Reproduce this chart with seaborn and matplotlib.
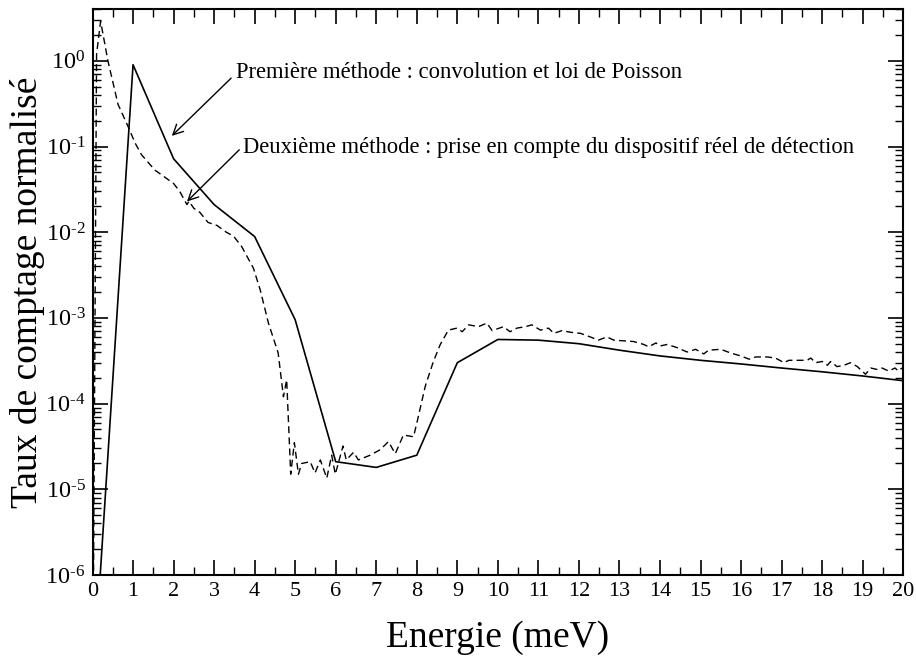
import numpy as np
import pandas as pd
import seaborn as sns
import matplotlib
matplotlib.use("Agg")
import matplotlib.pyplot as plt
from matplotlib.ticker import LogLocator, FuncFormatter, MultipleLocator, NullFormatter

# --- Data -----------------------------------------------------------------
# Première méthode : convolution et loi de Poisson (solid line)
energy_m1 = [0, 1, 2, 3, 4, 5, 6, 7, 8, 9, 10, 11, 12, 13, 14, 15, 16, 17, 18, 19, 20]
rate_m1 = [4e-8, 0.9, 0.072, 0.021, 0.0089, 9.5e-4, 2.1e-5, 1.8e-5, 2.5e-5, 3.0e-4,
           5.6e-4, 5.5e-4, 5.0e-4, 4.2e-4, 3.6e-4, 3.2e-4, 2.9e-4, 2.6e-4, 2.35e-4,
           2.1e-4, 1.85e-4]

# Deuxième méthode : prise en compte du dispositif réel de détection (dashed line)
energy_m2 = [0.0, 0.1, 0.2, 0.38, 0.63, 0.88, 1.05, 1.21, 1.54, 1.75, 2.0, 2.15, 2.33, 2.38,
             2.5, 2.65, 2.85, 3.07, 3.3, 3.48, 3.68, 3.97, 4.14, 4.34, 4.58, 4.71, 4.79,
             4.89, 4.98, 5.08, 5.16, 5.37, 5.49, 5.62, 5.78, 5.9, 5.99, 6.18, 6.26, 6.44,
             6.56, 6.85, 7.1, 7.3, 7.47, 7.67, 7.92, 8.0, 8.21, 8.41, 8.58, 8.78, 8.99,
             9.12, 9.28, 9.52, 9.73, 9.86, 10.14, 10.3, 10.47, 10.68, 10.84, 11.05, 11.25,
             11.38, 11.58, 11.79, 12.04, 12.28, 12.48, 12.69, 12.86, 13.1, 13.35, 13.6,
             13.72, 13.9, 14.0, 14.18, 14.42, 14.67, 14.88, 15.08, 15.2, 15.5, 15.74,
             15.99, 16.2, 16.36, 16.65, 16.85, 17.06, 17.18, 17.47, 17.63, 17.72, 17.84,
             18.0, 18.13, 18.21, 18.37, 18.54, 18.7, 18.87, 19.07, 19.2, 19.36, 19.48,
             19.64, 19.8, 19.88, 19.97]
rate_m2 = [1e-8, 1.2, 2.9, 1.0, 0.31, 0.17, 0.11, 0.08, 0.053, 0.045, 0.037, 0.030, 0.021,
           0.023, 0.019, 0.017, 0.013, 0.012, 0.010, 0.009, 0.0068, 0.0038, 0.0021, 8.7e-4,
           3.9e-4, 1.2e-4, 1.9e-4, 1.5e-5, 3.5e-5, 1.5e-5, 2.0e-5, 2.1e-5, 1.55e-5, 2.2e-5,
           1.35e-5, 2.5e-5, 1.5e-5, 3.2e-5, 2.2e-5, 2.7e-5, 2.2e-5, 2.5e-5, 2.9e-5, 3.6e-5,
           2.6e-5, 4.3e-5, 4.1e-5, 5.9e-5, 1.6e-4, 3.1e-4, 4.9e-4, 7.2e-4, 7.6e-4, 6.9e-4,
           8.3e-4, 7.9e-4, 8.7e-4, 7.1e-4, 7.9e-4, 6.9e-4, 7.6e-4, 7.9e-4, 8.3e-4, 7.2e-4,
           7.6e-4, 6.6e-4, 7.1e-4, 6.8e-4, 6.6e-4, 6.0e-4, 5.5e-4, 6.0e-4, 5.5e-4, 5.4e-4,
           5.3e-4, 4.9e-4, 4.6e-4, 5.1e-4, 4.7e-4, 4.9e-4, 4.5e-4, 4.0e-4, 4.3e-4, 3.8e-4,
           4.2e-4, 4.3e-4, 3.9e-4, 3.6e-4, 3.3e-4, 3.5e-4, 3.5e-4, 3.4e-4, 3.0e-4, 3.2e-4,
           3.2e-4, 3.2e-4, 3.4e-4, 3.0e-4, 3.1e-4, 2.8e-4, 3.1e-4, 2.7e-4, 2.8e-4, 3.0e-4,
           2.7e-4, 2.2e-4, 2.6e-4, 2.5e-4, 2.6e-4, 2.4e-4, 2.6e-4, 2.4e-4, 2.6e-4]

x_label = "Energie (meV)"
y_label = "Taux de comptage normalisé"
label_m1 = "Première méthode : convolution et loi de Poisson"
label_m2 = "Deuxième méthode : prise en compte du dispositif réel de détection"

# --- Style ----------------------------------------------------------------
sns.set_theme(style="ticks")
plt.rcParams["font.family"] = ["Liberation Serif", "DejaVu Serif"]
plt.rcParams["mathtext.fontset"] = "custom"
plt.rcParams["mathtext.rm"] = "Liberation Serif"
plt.rcParams["mathtext.it"] = "Liberation Serif:italic"
plt.rcParams["mathtext.bf"] = "Liberation Serif:bold"

fig = plt.figure(figsize=(9.16, 6.59), dpi=100)
ax = fig.add_axes([0.101, 0.1275, 0.885, 0.8585])

df1 = pd.DataFrame({"E": energy_m1, "R": rate_m1})
df2 = pd.DataFrame({"E": energy_m2, "R": rate_m2})

sns.lineplot(data=df1, x="E", y="R", ax=ax, color="black", lw=1.2,
             estimator=None, sort=False)
sns.lineplot(data=df2, x="E", y="R", ax=ax, color="black", lw=1.0,
             estimator=None, sort=False, linestyle=(0, (5, 3)))

ax.set_yscale("log")
ax.set_xlim(0, 20)
ax.set_ylim(1e-6, 4.0)

HYPHEN = "\u2010"


def pow10_label(v, pos):
    e = int(round(np.log10(v)))
    if e < 0:
        return "$10^{" + HYPHEN + str(-e) + "}$"
    return "$10^{" + str(e) + "}$"


ax.xaxis.set_major_locator(MultipleLocator(1))
ax.xaxis.set_minor_locator(MultipleLocator(0.5))
ax.yaxis.set_major_locator(LogLocator(base=10, numticks=20))
ax.yaxis.set_minor_locator(LogLocator(base=10, subs=np.arange(2, 10), numticks=20))
ax.yaxis.set_major_formatter(FuncFormatter(pow10_label))
ax.yaxis.set_minor_formatter(NullFormatter())

ax.tick_params(which="both", direction="in", top=True, right=True, colors="black")
ax.tick_params(which="major", length=11, width=1.2, pad=5)
ax.tick_params(axis="x", which="major", labelsize=16)
ax.tick_params(axis="y", which="major", labelsize=17.5, pad=5)
ax.tick_params(which="minor", length=5.5, width=1.0)
for s in ax.spines.values():
    s.set_linewidth(1.5)
    s.set_color("black")

ax.set_xlabel(x_label, fontsize=27, labelpad=14, color="black")
ax.set_ylabel(y_label, fontsize=27, color="black")
ax.yaxis.set_label_coords(-0.058, 0.5)

# Annotations
ax.text(3.54, 0.634, label_m1, fontsize=16.3, ha="left", va="baseline", color="black")
ax.annotate("", xy=(1.956, 0.133), xytext=(3.42, 0.628),
            arrowprops=dict(arrowstyle="->", lw=1.0, color="black",
                            shrinkA=0, shrinkB=0, mutation_scale=18))
ax.text(3.72, 0.0845, label_m2, fontsize=16.3, ha="left", va="baseline", color="black")
ax.annotate("", xy=(2.33, 0.0228), xytext=(3.62, 0.0915),
            arrowprops=dict(arrowstyle="->", lw=1.0, color="black",
                            shrinkA=0, shrinkB=0, mutation_scale=18))

fig.savefig("out.png", dpi=100, facecolor="white")
